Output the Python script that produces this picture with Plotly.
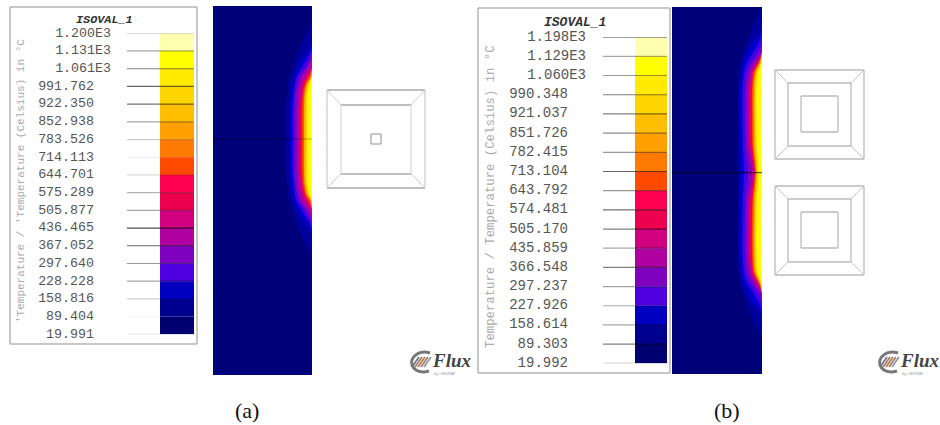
import plotly.graph_objects as go

W, H = 940, 425

# ---- legend data ----
A_LEVELS = [1200.0, 1131.0, 1061.0, 991.762, 922.350, 852.938, 783.526, 714.113, 644.701,
            575.289, 505.877, 436.465, 367.052, 297.640, 228.228, 158.816, 89.404, 19.991]
A_LABELS = ["1.200E3", "1.131E3", "1.061E3", "991.762", "922.350", "852.938", "783.526", "714.113", "644.701",
            "575.289", "505.877", "436.465", "367.052", "297.640", "228.228", "158.816", "89.404", "19.991"]
B_LEVELS = [1198.0, 1129.0, 1060.0, 990.348, 921.037, 851.726, 782.415, 713.104, 643.792,
            574.481, 505.170, 435.859, 366.548, 297.237, 227.926, 158.614, 89.303, 19.992]
B_LABELS = ["1.198E3", "1.129E3", "1.060E3", "990.348", "921.037", "851.726", "782.415", "713.104", "643.792",
            "574.481", "505.170", "435.859", "366.548", "297.237", "227.926", "158.614", "89.303", "19.992"]
BAND_COLORS = ["#ffffb0", "#ffff00", "#ffea00", "#ffd500", "#ffbf00", "#ff9f00", "#ff7a00", "#ff4a00", "#ff0050",
               "#ee0050", "#d0007f", "#b000a0", "#8000c0", "#5000e0", "#0000c0", "#000090", "#000070"]
A_LINE_ALPHA = [.2, .35, .5, .6, .55, .35, .2, .07, .15, .3, .35, .7, .6, .4, .35, .2, .04, .2]
B_LINE_ALPHA = [.5, .35, .4, .5, .5, .45, .4, .6, .4, .55, .5, .35, .5, .35, .35, .35, .5, .35]

# ---- heat field: depth of each isotherm from the right edge, at offsets from centre line ----
FIELD_COLORS = ["#00009c", "#0000cc", "#4000e8", "#8000c0", "#b000a0", "#f00050", "#ff4a00", "#ffaa00",
                "#ffd500", "#ffff00", "#ffffb0"]
A_OFFSETS = [0, 30, 45, 55, 62, 70, 80, 90, 100, 110, 119]
A_BANDS = [
    [26, 26, 25, 24, 22.5, 20.5, 17, 13, 9, 4, 0],
    [22, 22, 21, 19.5, 18, 15, 10, 3, 0, 0, 0],
    [19.5, 19.5, 18.5, 17, 15.5, 11, 5, 0, 0, 0, 0],
    [17.5, 17.5, 16.5, 15, 13, 7, 2, 0, 0, 0, 0],
    [15, 15, 14, 12.5, 10, 5, 0, 0, 0, 0, 0],
    [12, 12, 11, 9, 6, 1, 0, 0, 0, 0, 0],
    [10, 10, 9, 7, 3.5, 0, 0, 0, 0, 0, 0],
    [8, 8, 7.5, 5.5, 1.5, 0, 0, 0, 0, 0, 0],
    [6.5, 6.5, 6, 4, .8, 0, 0, 0, 0, 0, 0],
    [5, 5, 4.5, 2.5, 0, 0, 0, 0, 0, 0, 0],
    [1, 1, .8, .2, 0, 0, 0, 0, 0, 0, 0],
]
B_OFFSETS = [0, 12, 25, 50, 80, 100, 110, 120, 130, 140, 150, 165]
B_BANDS = [
    [24, 24, 24, 24, 24, 23.5, 22, 19, 16, 12, 8, 0],
    [22, 22, 22, 22, 22, 21, 19, 15, 10, 2, 0, 0],
    [18, 18.5, 19, 19.5, 19.5, 18, 15, 9, 3, 0, 0, 0],
    [14, 15, 16.5, 17, 17, 15, 11, 4, 0, 0, 0, 0],
    [10, 11.5, 14, 14.5, 14.5, 12, 7.5, 1, 0, 0, 0, 0],
    [8.5, 9.5, 11.5, 12, 12, 10, 5, 0, 0, 0, 0, 0],
    [7, 8, 9.5, 10, 10, 8.5, 3.5, 0, 0, 0, 0, 0],
    [6, 7, 8, 8.5, 8.5, 7, 2.5, 0, 0, 0, 0, 0],
    [5, 5.5, 6.5, 7, 7, 5.5, 1.5, 0, 0, 0, 0, 0],
    [3.5, 4.2, 5, 5.5, 5.5, 4.2, .8, 0, 0, 0, 0, 0],
    [.5, .7, 1, 1, 1, .7, 0, 0, 0, 0, 0, 0],
]

# ---- coil geometry (sheet units) ----
A_COIL = {"outer": (327, 425, 90, 188), "inner": (341, 411, 105, 174), "core": (371, 381, 134, 144)}
B_COIL_1 = {"outer": (775, 864, 70, 159), "inner": (788, 851, 83, 146), "core": (801, 838, 96, 132)}
B_COIL_2 = {"outer": (775, 864, 186, 275), "inner": (788, 851, 199, 262), "core": (801, 838, 212, 248)}

# ---- logo sketch, relative to its centre ----
LOGO_ARC_X = [9, 3, -4, -9, -9, -5, 2, 8]
LOGO_ARC_Y = [-9, -10, -8, -2, 3, 8, 10, 9]
LOGO_STRIPES = [(-5, "#777777"), (-2, "#888888"), (1, "#e07030"), (4, "#888888"), (7, "#999999")]

NAVY = "#000078"
TEXT = "#555555"
MONO = "Liberation Mono"

fig = go.Figure()


def dom(a, b, size):
    return [a / size, b / size]


def ydom(top, bottom):
    return [1 - bottom / H, 1 - top / H]


def legend_panel(n, frame, py, tick_x, bar_x, levels, labels, alphas, size, xnum, xexp):
    xa, ya = f"xaxis{n}", f"yaxis{n}"
    fig.update_layout(**{
        xa: dict(domain=dom(frame[0], frame[1], W), range=list(frame), visible=False),
        ya: dict(domain=ydom(*py), range=[levels[-1], levels[0]], visible=False),
    })
    xr, yr = f"x{n}", f"y{n}"
    fig.add_bar(x=[sum(bar_x) / 2] * 17, width=[bar_x[1] - bar_x[0]] * 17,
                y=[levels[i] - levels[i + 1] for i in range(17)], base=levels[1:],
                marker=dict(color=BAND_COLORS, line_width=0), xaxis=xr, yaxis=yr, showlegend=False)
    for lev, al in zip(levels, alphas):
        fig.add_scatter(x=[tick_x, bar_x[1]], y=[lev, lev], mode="lines", line=dict(color=f"rgba(0,0,0,{al})", width=1.2),
                        xaxis=xr, yaxis=yr, showlegend=False, cliponaxis=False)
    fig.add_scatter(x=[xexp if "E" in t else xnum for t in labels], y=levels, text=labels, mode="text",
                    textposition="middle left", textfont=dict(family=MONO, size=size, color=TEXT),
                    xaxis=xr, yaxis=yr, showlegend=False, cliponaxis=False)


def field_panel(n, px, py, center, offsets, bands, line_color):
    xa, ya = f"xaxis{n}", f"yaxis{n}"
    fig.update_layout(**{
        xa: dict(domain=dom(px[0], px[1], W), range=[px[1] - px[0], 0], visible=False),
        ya: dict(domain=ydom(*py), range=[py[1] - center, py[0] - center], visible=False),
    })
    xr, yr = f"x{n}", f"y{n}"
    fig.add_scatter(x=[px[1] - px[0], 0, 0, px[1] - px[0]], y=[py[0] - center, py[0] - center, py[1] - center, py[1] - center],
                    fill="toself", fillcolor=NAVY, mode="lines", line_width=0, xaxis=xr, yaxis=yr, showlegend=False)
    for col, d in zip(FIELD_COLORS, bands):
        xs = d[::-1][:-1] + d
        ys = [-o for o in offsets[::-1][:-1]] + offsets
        fig.add_scatter(x=xs, y=ys, fill="toself", fillcolor=col, mode="lines",
                        line=dict(width=0, shape="spline", smoothing=.8), xaxis=xr, yaxis=yr, showlegend=False)
    fig.add_scatter(x=[0, px[1] - px[0]], y=[0, 0], mode="lines", line=dict(color=line_color, width=1),
                    xaxis=xr, yaxis=yr, showlegend=False)


def seg(xs, ys, color, width=1.3):
    fig.add_scatter(x=xs, y=ys, mode="lines", line=dict(color=color, width=width), xaxis="x", yaxis="y", showlegend=False)


def square(x0, x1, y0, y1, h="#b4b4b4", v="#b4b4b4", width=1.3):
    seg([x0, x1], [y0, y0], h, width)
    seg([x0, x1], [y1, y1], h, width)
    seg([x0, x0], [y0, y1], v, width)
    seg([x1, x1], [y0, y1], v, width)


def coil(c, h_outer, v_outer, h_inner, v_inner, diag):
    o, i, k = c["outer"], c["inner"], c["core"]
    square(*o, h=h_outer, v=v_outer)
    square(*i, h=h_inner, v=v_inner)
    square(*k, h=h_outer, v=h_outer)
    for ox, ix in ((o[0], i[0]), (o[1], i[1])):
        for oy, iy in ((o[2], i[2]), (o[3], i[3])):
            seg([ox, ix], [oy, iy], diag, 1)


def logo(x, y):
    fig.add_scatter(x=[x + a for a in LOGO_ARC_X], y=[y + b for b in LOGO_ARC_Y], mode="lines",
                    line=dict(color="#777777", width=3, shape="spline"), xaxis="x", yaxis="y", showlegend=False)
    for dx, col in LOGO_STRIPES:
        seg([x + dx - 4, x + dx + 3], [y + 5, y - 5], col, 1.8)
    fig.add_annotation(x=x + 9, y=y - 2, text="<b><i>Flux</i></b>", showarrow=False, xref="x", yref="y", xanchor="left",
                       font=dict(family="Liberation Serif", size=19, color="#444"))
    fig.add_annotation(x=x + 11, y=y + 11, text="by CEDRAT", showarrow=False, xref="x", yref="y", xanchor="left",
                       font=dict(family="Liberation Sans", size=4, color="#999"))


# sheet axis
fig.update_layout(
    xaxis=dict(domain=[0, 1], range=[0, W], visible=False),
    yaxis=dict(domain=[0, 1], range=[H, 0], visible=False),
)

square(10, 197, 7, 344, h="#b4b4b4", v="#b4b4b4", width=1.5)
square(478, 670, 8, 373, h="#b4b4b4", v="#b4b4b4", width=1.5)

legend_panel(2, (10, 197), (33.3, 334.3), 127, (160, 194), A_LEVELS, A_LABELS, A_LINE_ALPHA, 13.3, 94, 111)
legend_panel(3, (478, 670), (37.3, 363.3), 603, (635, 667), B_LEVELS, B_LABELS, B_LINE_ALPHA, 14, 568, 586)
field_panel(4, (213, 312), (6, 375), 139, A_OFFSETS, A_BANDS, "rgba(0,0,0,0.3)")
field_panel(5, (672, 762), (7, 374), 172.7, B_OFFSETS, B_BANDS, "rgba(0,0,0,0.75)")

coil(A_COIL, "#a8a8a8", "#cccccc", "#a8a8a8", "#dddddd", "#cccccc")
coil(B_COIL_1, "#bbbbbb", "#bbbbbb", "#bbbbbb", "#bbbbbb", "#c4c4c4")
coil(B_COIL_2, "#bbbbbb", "#bbbbbb", "#bbbbbb", "#bbbbbb", "#c4c4c4")
logo(421, 362)
logo(889, 362)


def text(x, y, s, **kw):
    fnt = kw.pop("font")
    fig.add_annotation(x=x, y=y, text=s, xref="x", yref="y", showarrow=False, font=fnt, **kw)


text(104, 19.5, "<b><i>ISOVAL_1</i></b>", font=dict(family=MONO, size=11.8, color="#333"))
text(575, 22.5, "<b><i>ISOVAL_1</i></b>", font=dict(family=MONO, size=13, color="#333"))
text(21, 181, "'Temperature / 'Temperature (Celsius) in °C", textangle=-90, font=dict(family=MONO, size=11, color="#aaa"))
text(491, 197, "Temperature / Temperature (Celsius) in °C", textangle=-90, font=dict(family=MONO, size=12.3, color="#aaa"))
text(247, 410, "(a)", font=dict(family="Liberation Serif", size=22, color="#111"))
text(727, 410, "(b)", font=dict(family="Liberation Serif", size=22, color="#111"))

fig.update_layout(width=W, height=H, margin=dict(l=0, r=0, t=0, b=0), paper_bgcolor="white", plot_bgcolor="rgba(0,0,0,0)",
                  barmode="overlay", showlegend=False)
fig.write_html("out.html", config={"displayModeBar": False}, post_script="document.body.style.margin='0';")
